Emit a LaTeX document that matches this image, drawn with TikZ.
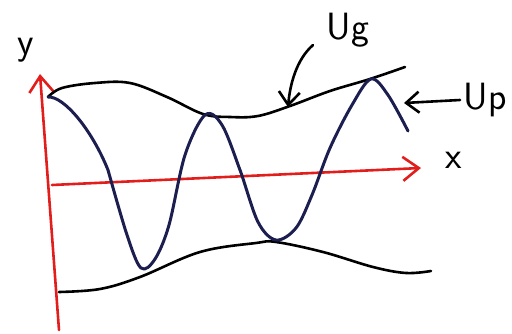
\documentclass[tikz,border=0pt]{standalone}
\usepackage{tikz}
\usetikzlibrary{arrows.meta,positioning}
\definecolor{axred}{RGB}{226,30,28}
\definecolor{wavenavy}{RGB}{28,30,80}

\begin{document}
\begin{tikzpicture}[x=1pt, y=-1pt, line cap=round, line join=round, every node/.style={font=\sffamily\fontsize{38}{38}\selectfont}]
\tikzset{axis/.style={draw=axred, line width=2.6pt, -{Straight Barb[length=16pt, width=24pt, line width=2.6pt]}}}
\tikzset{env/.style={draw=black, line width=2.6pt}}
\tikzset{wave/.style={draw=wavenavy, line width=3pt}}
\tikzset{ptr/.style={draw=black, line width=2.6pt, -{Straight Barb[length=13pt, width=21pt, line width=2.6pt]}}}
\useasboundingbox (0,0) rectangle (512,334);
% axes
\coordinate (ybot) at (59,330);
\coordinate (ytop) at (40,74);
\coordinate (xleft) at (52,185);
\coordinate (xright) at (421,168);
\draw[axis] (ybot) -- (ytop);
\draw[axis] (xleft) -- (xright);
\node (ylab) at (26,50) {y};
\node (xlab) at (454,160) {x};
% envelopes
\draw[env] plot[smooth, tension=0.6] coordinates {(48,97) (62,88) (95,83) (130,83) (167,97) (203,114) (230,117) (258,116) (290,106) (330,91) (370,79) (405,67)};
\draw[env] plot[smooth, tension=0.6] coordinates {(59,292) (100,289) (140,277) (200,252) (256,243) (276,242) (323,252) (373,267) (406,273) (431,271)};
% carrier
\draw[wave] (48,97) .. controls (64,96) and (92,130) .. (108,170)
  plot[smooth, tension=0.55] coordinates {(108,170) (127,235) (141,268) (155,259) (169,225) (185,155) (205,115) (222,125) (240,170) (258,222) (276,240) (296,228) (312,195) (330,148) (352,105) (371,79) (388,95) (408,131)};
% labels
\node (lblg) at (348,30) {Ug};
\node (lblp) at (485,100) {Up};
\coordinate (gtail) at (313,45);
\coordinate (gtip) at (288,107);
\coordinate (ptip) at (404,103);
\draw[ptr] (gtail) .. controls (296,60) and (290,85) .. (gtip);
\draw[ptr] (lblp.west) -- (ptip);
\end{tikzpicture}
\end{document}
